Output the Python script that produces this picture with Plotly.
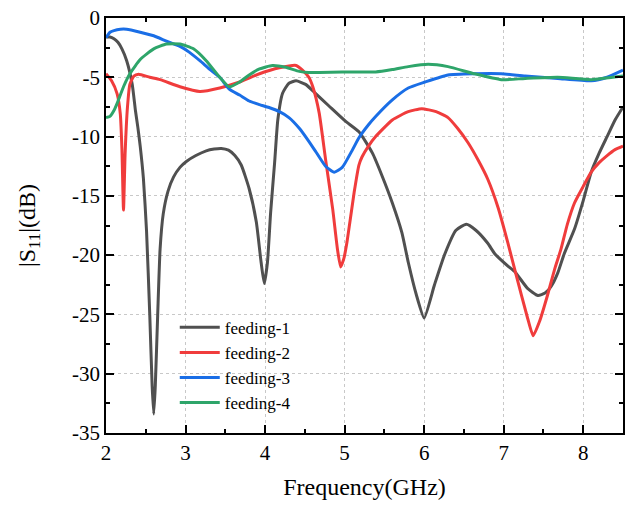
import plotly.graph_objects as go

# feeding-1
f1_x = [2.0, 2.05, 2.1, 2.15, 2.2, 2.26, 2.33, 2.37, 2.4, 2.43, 2.47, 2.51, 2.55, 2.58, 2.6, 2.62, 2.65, 2.68, 2.72,
        2.78, 2.85, 2.93, 3.01, 3.13, 3.26, 3.36, 3.45, 3.54, 3.62, 3.7, 3.8, 3.89, 3.95, 3.99, 4.03, 4.07, 4.12,
        4.16, 4.22, 4.3, 4.39, 4.51, 4.64, 4.8, 5.01, 5.18, 5.35, 5.47, 5.6, 5.72, 5.8, 5.9, 6.0, 6.13, 6.26, 6.4,
        6.53, 6.65, 6.8, 6.89, 7.05, 7.14, 7.3, 7.43, 7.52, 7.6, 7.68, 7.76, 7.89, 8.0, 8.1, 8.2, 8.3, 8.4, 8.5]
f1_y = [-1.6, -1.6, -1.75, -2.05, -2.6, -3.6, -5.6, -7.8, -9.2, -10.8, -13.5, -18.0, -25.0, -31.0, -33.4, -31.0,
        -25.0, -19.5, -16.5, -14.6, -13.4, -12.6, -12.1, -11.6, -11.2, -11.05, -11.0, -11.15, -11.6, -12.4, -14.4,
        -17.2, -20.6, -22.4, -20.6, -16.4, -12.2, -8.6, -6.35, -5.5, -5.3, -5.6, -6.4, -7.4, -8.7, -9.6, -11.4,
        -13.3, -15.6, -18.1, -20.6, -23.3, -25.3, -22.5, -19.9, -17.9, -17.4, -17.9, -19.0, -19.9, -20.9, -21.4,
        -22.8, -23.4, -23.2, -22.6, -21.5, -19.9, -17.8, -15.4, -13.0, -11.4, -10.0, -8.6, -7.5]

# feeding-2
f2_x = [2.0, 2.07, 2.14, 2.18, 2.2, 2.22, 2.24, 2.27, 2.3, 2.35, 2.41, 2.55, 2.68, 2.93, 3.18, 3.43, 3.68, 3.93,
        4.18, 4.39, 4.47, 4.55, 4.6, 4.68, 4.76, 4.85, 4.91, 4.95, 4.99, 5.03, 5.12, 5.18, 5.22, 5.3, 5.39, 5.6,
        5.8, 5.97, 6.15, 6.3, 6.42, 6.55, 6.68, 6.8, 6.93, 7.05, 7.15, 7.3, 7.37, 7.45, 7.55, 7.64, 7.72, 7.8,
        7.89, 8.0, 8.1, 8.2, 8.3, 8.4, 8.5]
f2_y = [-4.7, -5.3, -6.4, -8.1, -11.0, -16.2, -11.5, -7.5, -5.6, -4.9, -4.75, -5.0, -5.2, -5.8, -6.2, -5.9, -5.4,
        -4.7, -4.2, -4.0, -4.4, -5.0, -5.8, -8.0, -11.9, -16.1, -19.5, -21.0, -20.3, -18.9, -14.7, -12.4, -11.7,
        -10.8, -10.0, -8.6, -7.9, -7.65, -7.9, -8.4, -9.3, -10.5, -12.0, -13.6, -16.0, -18.9, -21.5, -25.3, -26.8,
        -25.6, -23.4, -21.2, -19.5, -17.4, -15.6, -14.2, -13.0, -12.2, -11.6, -11.1, -10.8]

# feeding-3
f3_x = [2.0, 2.05, 2.1, 2.18, 2.26, 2.43, 2.6, 2.76, 2.93, 3.05, 3.18, 3.3, 3.43, 3.55, 3.68, 3.8, 3.93, 4.05,
        4.18, 4.3, 4.43, 4.55, 4.64, 4.76, 4.87, 4.97, 5.1, 5.18, 5.3, 5.39, 5.6, 5.8, 6.01, 6.3, 6.63, 6.97,
        7.27, 7.68, 8.1, 8.3, 8.5]
f3_y = [-1.67, -1.2, -1.06, -0.95, -0.95, -1.2, -1.5, -1.95, -2.4, -2.9, -3.6, -4.3, -5.0, -6.0, -6.5, -7.0, -7.3,
        -7.55, -7.9, -8.4, -9.3, -10.4, -11.3, -12.5, -13.0, -12.6, -11.1, -10.1, -9.0, -8.3, -6.9, -5.9, -5.4,
        -4.8, -4.7, -4.7, -4.9, -5.1, -5.3, -5.0, -4.4]

# feeding-4
f4_x = [2.0, 2.05, 2.1, 2.14, 2.22, 2.3, 2.43, 2.6, 2.76, 2.93, 3.1, 3.26, 3.43, 3.55, 3.68, 3.8, 3.93, 4.09, 4.26,
        4.43, 4.55, 4.68, 4.97, 5.39, 5.6, 5.8, 6.05, 6.3, 6.63, 6.97, 7.27, 7.68, 8.1, 8.5]
f4_y = [-8.4, -8.3, -7.8, -7.2, -5.8, -4.7, -3.5, -2.6, -2.2, -2.2, -2.6, -3.6, -5.0, -5.8, -5.4, -4.8, -4.3, -4.0,
        -4.15, -4.5, -4.6, -4.6, -4.55, -4.55, -4.35, -4.1, -3.9, -4.1, -4.7, -5.2, -5.1, -5.0, -5.2, -4.9]

names = ["feeding-1", "feeding-2", "feeding-3", "feeding-4"]
colors = ["#505050", "#f03c3c", "#1a6ee6", "#2ea56a"]
xs = [f1_x, f2_x, f3_x, f4_x]
ys = [f1_y, f2_y, f3_y, f4_y]

x_ticks = [2, 3, 4, 5, 6, 7, 8]
x_labels = ["2", "3", "4", "5", "6", "7", "8"]
y_ticks = [0, -5, -10, -15, -20, -25, -30, -35]
y_labels = ["0", "-5", "-10", "-15", "-20", "-25", "-30", "-35"]

fig = go.Figure()
for x, y, n, c in zip(xs, ys, names, colors):
    fig.add_trace(go.Scatter(x=x, y=y, name=n, mode="lines",
                             line=dict(color=c, width=3, shape="spline", smoothing=0.5)))

font = "Liberation Serif"
axis_common = dict(
    showline=True, linecolor="black", linewidth=1.5, mirror="allticks",
    ticks="inside", ticklen=8, tickwidth=1.5, tickcolor="black",
    showgrid=True, gridcolor="#c8c8c8", griddash="dot", gridwidth=1,
    zeroline=False, tickfont=dict(family=font, size=21, color="black"),
)
fig.update_xaxes(range=[2, 8.5], tickmode="array", tickvals=x_ticks, ticktext=x_labels,
                 minor=dict(dtick=0.5, tick0=2, ticks="inside", ticklen=4, tickcolor="black", showgrid=False),
                 title=dict(text="Frequency(GHz)", font=dict(family=font, size=24, color="black"), standoff=14),
                 **axis_common)
fig.update_yaxes(range=[-35, 0], tickmode="array", tickvals=y_ticks, ticktext=y_labels,
                 minor=dict(dtick=2.5, tick0=0, ticks="inside", ticklen=4, tickcolor="black", showgrid=False),
                 title=dict(text="|S<sub>11</sub>|(dB)", font=dict(family=font, size=24, color="black"), standoff=30),
                 **axis_common)

fig.update_layout(
    width=631, height=509,
    margin=dict(l=106, r=6, t=14, b=76),
    paper_bgcolor="white", plot_bgcolor="white",
    showlegend=True,
    legend=dict(x=0.133, y=0.297, xanchor="left", yanchor="top", bgcolor="rgba(0,0,0,0)",
                font=dict(family=font, size=17, color="black"), tracegroupgap=0, itemwidth=40),
)

fig.write_html("out.html")
